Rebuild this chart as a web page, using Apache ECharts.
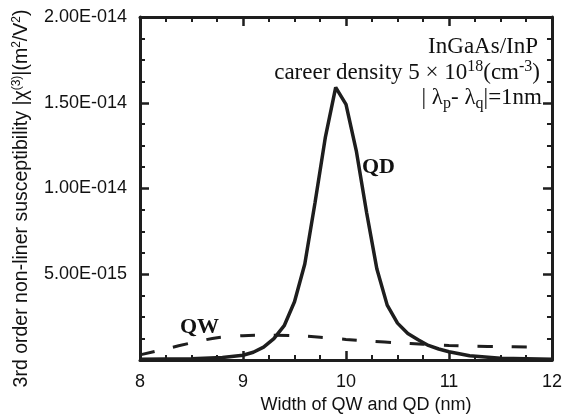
<!DOCTYPE html>
<html>
<head>
<meta charset="utf-8">
<script src="https://cdn.jsdelivr.net/npm/echarts@6/dist/echarts.min.js"></script>
<style>
    html, body { margin: 0; padding: 0; background: #fff; }
    #chart { width: 565px; height: 419px; }
</style>
</head>
<body>
<div id="chart"></div>
<script>
// values of the y axis are in units of 1e-14 m^2/V^2
const yTickLabels = ['', '5.00E-015', '1.00E-014', '1.50E-014', '2.00E-014'];

const qdWidth = [8.0, 8.5, 8.8, 9.0, 9.1, 9.2, 9.3, 9.4, 9.5, 9.6, 9.7, 9.8, 9.9,
    10.0, 10.1, 10.2, 10.3, 10.4, 10.5, 10.6, 10.7, 10.8, 10.9, 11.0, 11.2, 11.5, 12.0];
const qdValues = [0.004, 0.008, 0.015, 0.028, 0.045, 0.075, 0.125, 0.2, 0.34, 0.56, 0.92, 1.30, 1.59,
    1.49, 1.22, 0.86, 0.53, 0.32, 0.215, 0.155, 0.118, 0.085, 0.064, 0.048, 0.025, 0.01, 0.004];

const qwWidth = [8.0, 8.25, 8.5, 8.75, 9.0, 9.25, 9.5, 9.75, 10.0, 10.25, 10.5, 10.75, 11.0, 11.25, 11.5, 11.8];
const qwValues = [0.03, 0.065, 0.1, 0.13, 0.142, 0.145, 0.142, 0.133, 0.12, 0.11, 0.1, 0.092, 0.085, 0.08, 0.078, 0.076];

const sansFont = '"Liberation Sans", Arial, sans-serif';
const serifFont = '"Liberation Serif", "Times New Roman", serif';
const ink = '#1e1e1e';

const chart = echarts.init(document.getElementById('chart'));

const baseX = {
    type: 'value',
    min: 8,
    max: 12,
    interval: 1,
    axisLine: { show: true, onZero: false, lineStyle: { color: ink, width: 3 } },
    axisTick: { show: true, inside: true, length: 9, lineStyle: { color: ink, width: 2.5 } },
    minorTick: { show: true, splitNumber: 4, length: 5, lineStyle: { color: ink, width: 2 } },
    splitLine: { show: false }
};

const baseY = {
    type: 'value',
    min: 0,
    max: 2,
    interval: 0.5,
    axisLine: { show: true, onZero: false, lineStyle: { color: ink, width: 3 } },
    axisTick: { show: true, inside: true, length: 9, lineStyle: { color: ink, width: 2.5 } },
    minorTick: { show: true, splitNumber: 4, length: 5, lineStyle: { color: ink, width: 2 } },
    splitLine: { show: false }
};

chart.setOption({
    backgroundColor: '#fff',
    animation: false,
    grid: { left: 140, right: 11, top: 17, bottom: 59 },
    xAxis: [
        Object.assign({}, baseX, {
            position: 'bottom',
            axisLabel: { color: '#111', fontFamily: sansFont, fontSize: 18, margin: 13 },
            name: 'Width of QW and QD (nm)',
            nameLocation: 'middle',
            nameGap: 34,
            nameTextStyle: { color: '#111', fontFamily: sansFont, fontSize: 18, padding: [0, 0, 0, 40] }
        }),
        Object.assign({}, baseX, {
            position: 'top',
            axisLabel: { show: false }
        })
    ],
    yAxis: [
        Object.assign({}, baseY, {
            position: 'left',
            axisLabel: {
                color: '#111', fontFamily: sansFont, fontSize: 18, margin: 13,
                formatter: (v) => yTickLabels[Math.round(v / 0.5)]
            },
            name: '3rd order non-liner susceptibility |χ{sup|(3)}|(m{sup|2}/V{sup|2})',
            nameLocation: 'middle',
            nameGap: 107,
            nameTextStyle: {
                color: '#111', fontFamily: sansFont, fontSize: 19.5,
                padding: [0, 20, 0, 0],
                rich: {
                    sup: { fontFamily: sansFont, fontSize: 12, color: '#111', verticalAlign: 'top', lineHeight: 22 }
                }
            }
        }),
        Object.assign({}, baseY, {
            position: 'right',
            axisLabel: { show: false }
        })
    ],
    series: [
        {
            name: 'QD',
            type: 'line',
            data: qdWidth.map((w, i) => [w, qdValues[i]]),
            showSymbol: false,
            lineStyle: { color: ink, width: 3.5 },
            z: 3
        },
        {
            name: 'QW',
            type: 'line',
            data: qwWidth.map((w, i) => [w, qwValues[i]]),
            smooth: 0.3,
            showSymbol: false,
            lineStyle: { color: ink, width: 3, type: [15, 19] },
            z: 2
        }
    ],
    graphic: [
        {
            type: 'text',
            right: 27,
            top: 35,
            style: { text: 'InGaAs/InP', font: '23px ' + serifFont, fill: '#111', textAlign: 'right' }
        },
        {
            type: 'text',
            right: 25,
            top: 59,
            style: {
                text: 'career density 5 × 10{sup|18}(cm{sup|-3})',
                font: '23px ' + serifFont,
                fill: '#111',
                rich: {
                    sup: { font: '16px ' + serifFont, fill: '#111', verticalAlign: 'top', lineHeight: 27 }
                }
            }
        },
        {
            type: 'text',
            right: 23,
            top: 86,
            style: {
                text: '| λ{sub|p}- λ{sub|q}|=1nm',
                font: '23px ' + serifFont,
                fill: '#111',
                rich: {
                    sub: { font: '16px ' + serifFont, fill: '#111', verticalAlign: 'bottom', lineHeight: 28 }
                }
            }
        },
        {
            type: 'text',
            left: 362,
            top: 156,
            style: { text: 'QD', font: 'bold 22px ' + serifFont, fill: '#111' }
        },
        {
            type: 'text',
            left: 180,
            top: 316,
            style: { text: 'QW', font: 'bold 22px ' + serifFont, fill: '#111' }
        }
    ]
});
</script>
</body>
</html>
